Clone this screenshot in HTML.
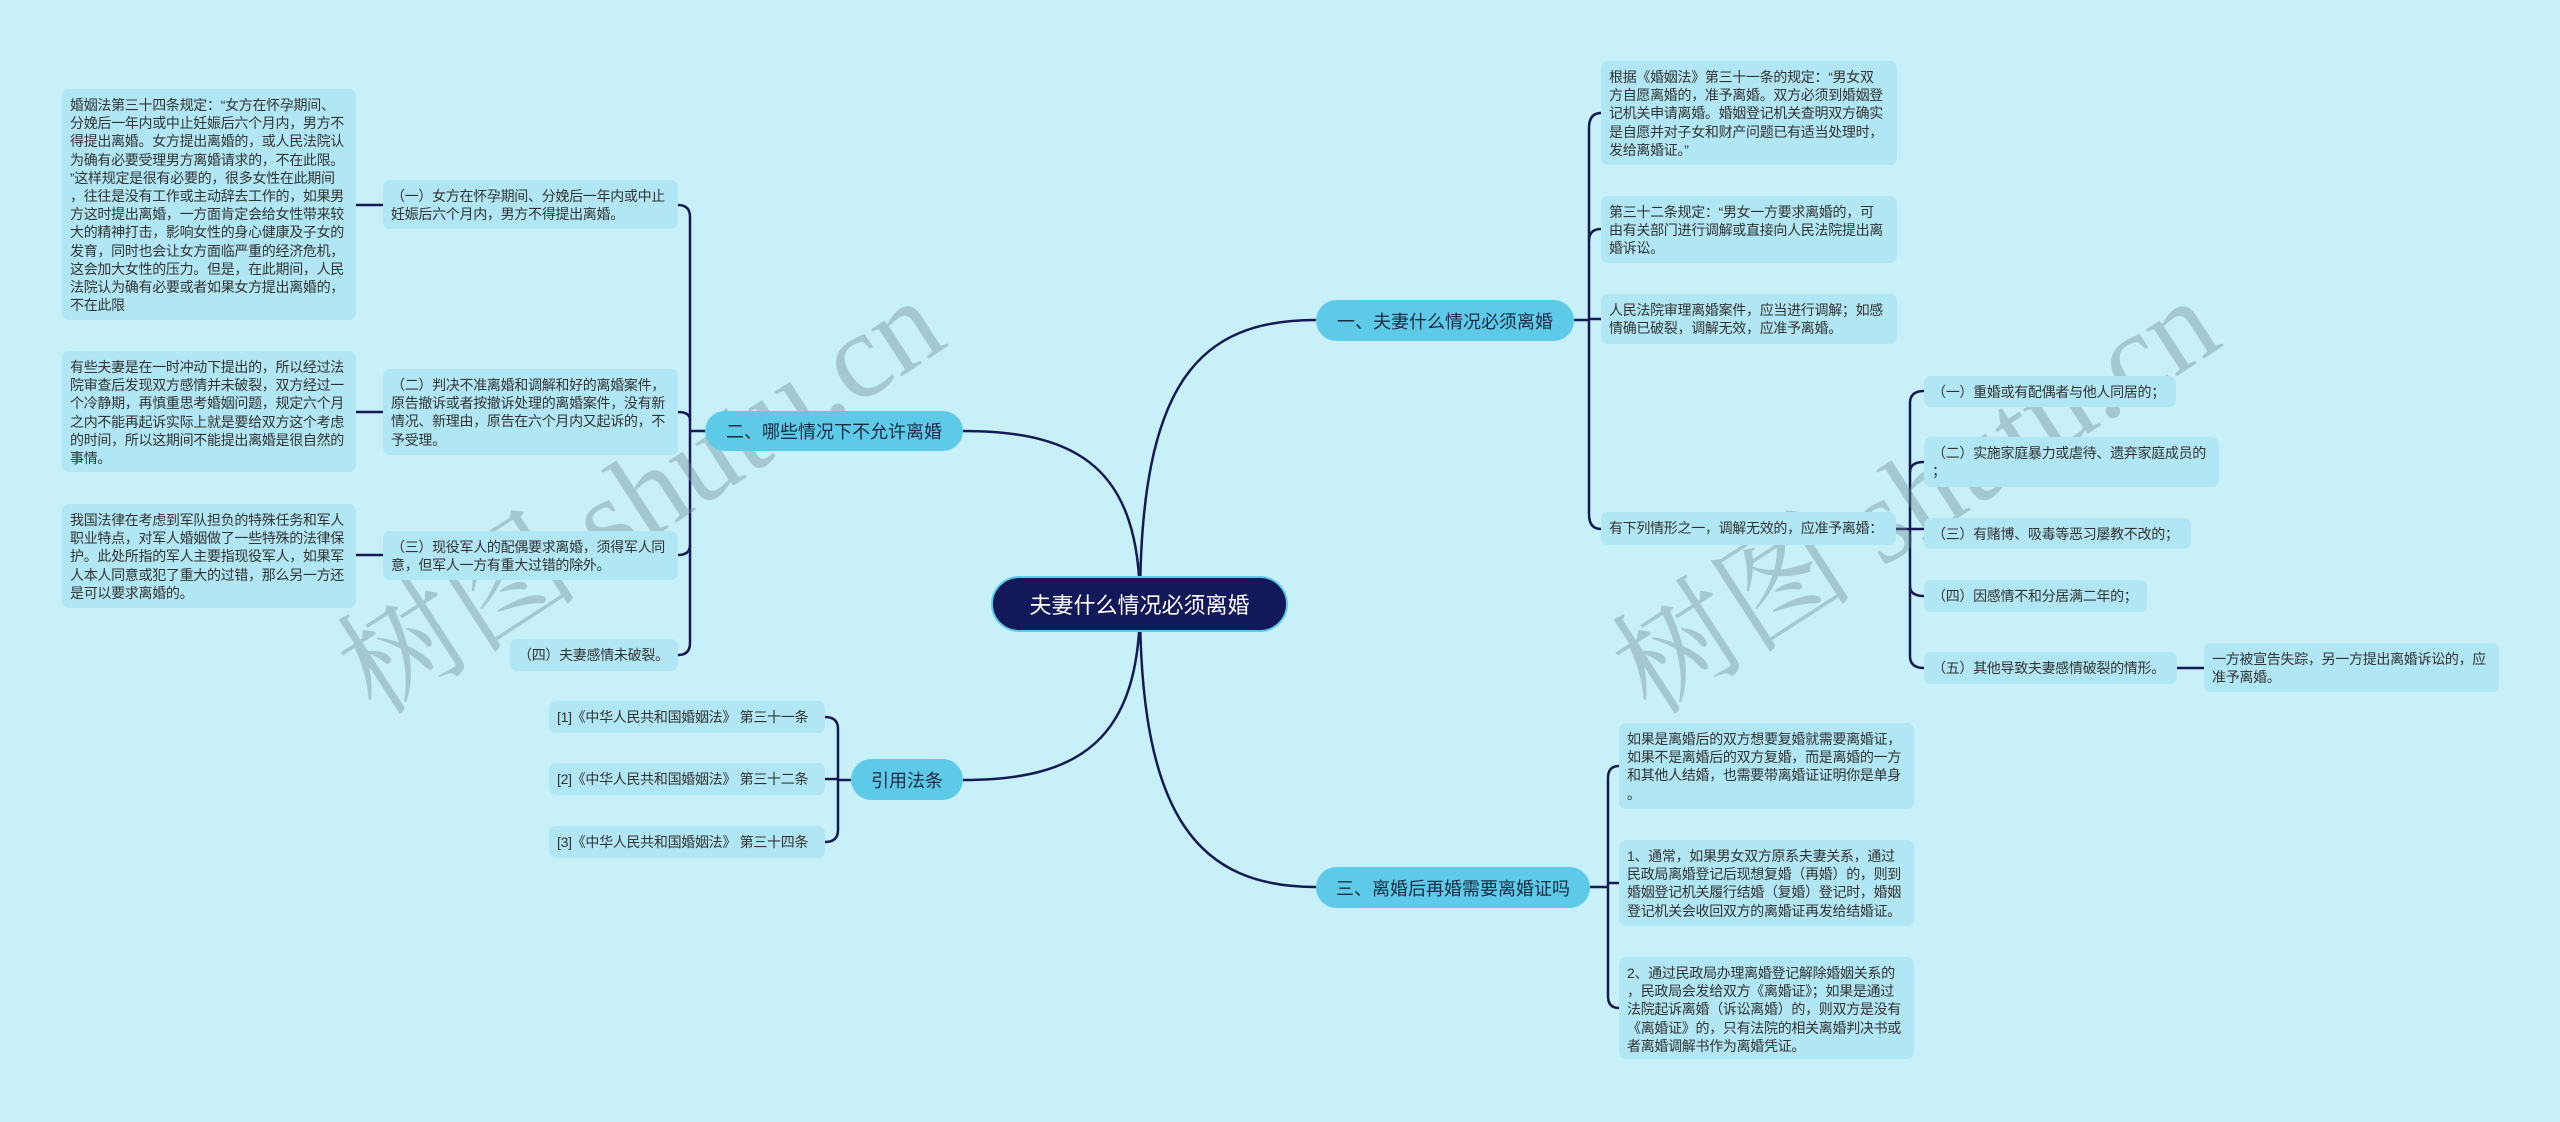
<!DOCTYPE html>
<html><head><meta charset="utf-8"><style>
body{margin:0;width:2560px;height:1122px;background:#c8f0f8;overflow:hidden;position:relative;font-family:"Liberation Sans","Noto Sans CJK SC",sans-serif;}
.b{position:absolute;background:#b1e7f4;border-radius:7px;color:#333;font-size:14px;line-height:18.2px;padding:7px 8px;box-sizing:border-box;white-space:nowrap;letter-spacing:-0.3px}
.m{position:absolute;background:#5dcbe8;border-radius:22px;color:#1d2a44;font-size:18px;display:flex;align-items:center;justify-content:center;box-sizing:border-box}
.wm{position:absolute;font-family:"Liberation Serif","Noto Serif CJK SC",serif;font-size:122px;color:rgba(110,140,150,0.4);transform:rotate(-33deg);transform-origin:left top;white-space:nowrap}
svg{position:absolute;left:0;top:0}
</style></head><body>
<svg width="2560" height="1122" fill="none" stroke="#151a55" stroke-width="2.5">
<path d="M1140 604 C1140 380 1200 320 1316 320"/>
<path d="M1140 604 C1140 470 1080 431 963 431"/>
<path d="M1140 604 C1140 740 1080 780 963 780"/>
<path d="M1140 604 C1140 820 1200 887 1316 887"/>
<path d="M705 431 L690 431"/>
<path d="M678 205 Q690 205 690 217 L690 643 Q690 655 678 655"/>
<path d="M678 412 Q690 412 690 420"/>
<path d="M678 555 Q690 555 690 545"/>
<path d="M356 205 L383 205 M356 412 L383 412 M356 555 L383 555"/>
<path d="M851 780 L838 780"/>
<path d="M825 717 Q838 717 838 729 L838 830 Q838 842 825 842"/>
<path d="M825 779 L838 779"/>
<path d="M1574 320 L1589 320"/>
<path d="M1601 113 Q1589 113 1589 128 L1589 514 Q1589 529 1601 529"/>
<path d="M1601 229 Q1589 229 1589 241"/>
<path d="M1601 319 L1589 319"/>
<path d="M1896 529 L1924 529"/>
<path d="M1924 391 Q1910 391 1910 403 L1910 656 Q1910 668 1924 668"/>
<path d="M1924 462 Q1910 462 1910 472"/>
<path d="M1924 596 Q1910 596 1910 586"/>
<path d="M2177 668 L2204 668"/>
<path d="M1590 887 L1608 887"/>
<path d="M1619 766 Q1608 766 1608 778 L1608 996 Q1608 1008 1619 1008"/>
<path d="M1619 883 L1608 883"/>
</svg>

<div class="wm" style="left:300px;top:600px">树图 shutu.cn</div>
<div class="wm" style="left:1575px;top:600px">树图 shutu.cn</div>

<div class="m" style="left:991px;top:576px;width:297px;height:56px;background:#121858;color:#fff;font-size:22px;border-radius:28px;border:2px solid #5dcbe8">夫妻什么情况必须离婚</div>
<div class="m" style="left:1316px;top:300px;width:258px;height:41px">一、夫妻什么情况必须离婚</div>
<div class="m" style="left:705px;top:411px;width:258px;height:40px">二、哪些情况下不允许离婚</div>
<div class="m" style="left:851px;top:759px;width:112px;height:41px">引用法条</div>
<div class="m" style="left:1316px;top:867px;width:274px;height:41px">三、离婚后再婚需要离婚证吗</div>

<div class="b" style="left:62px;top:89px;width:294px;height:231px">婚姻法第三十四条规定：“女方在怀孕期间、<br>分娩后一年内或中止妊娠后六个月内，男方不<br>得提出离婚。女方提出离婚的，或人民法院认<br>为确有必要受理男方离婚请求的，不在此限。<br>”这样规定是很有必要的，很多女性在此期间<br>，往往是没有工作或主动辞去工作的，如果男<br>方这时提出离婚，一方面肯定会给女性带来较<br>大的精神打击，影响女性的身心健康及子女的<br>发育，同时也会让女方面临严重的经济危机，<br>这会加大女性的压力。但是，在此期间，人民<br>法院认为确有必要或者如果女方提出离婚的，<br>不在此限</div>
<div class="b" style="left:383px;top:180px;width:295px;height:49px">（一）女方在怀孕期间、分娩后一年内或中止<br>妊娠后六个月内，男方不得提出离婚。</div>
<div class="b" style="left:62px;top:351px;width:294px;height:121px">有些夫妻是在一时冲动下提出的，所以经过法<br>院审查后发现双方感情并未破裂，双方经过一<br>个冷静期，再慎重思考婚姻问题，规定六个月<br>之内不能再起诉实际上就是要给双方这个考虑<br>的时间，所以这期间不能提出离婚是很自然的<br>事情。</div>
<div class="b" style="left:383px;top:369px;width:295px;height:86px">（二）判决不准离婚和调解和好的离婚案件，<br>原告撤诉或者按撤诉处理的离婚案件，没有新<br>情况、新理由，原告在六个月内又起诉的，不<br>予受理。</div>
<div class="b" style="left:62px;top:504px;width:294px;height:104px">我国法律在考虑到军队担负的特殊任务和军人<br>职业特点，对军人婚姻做了一些特殊的法律保<br>护。此处所指的军人主要指现役军人，如果军<br>人本人同意或犯了重大的过错，那么另一方还<br>是可以要求离婚的。</div>
<div class="b" style="left:383px;top:531px;width:295px;height:49px">（三）现役军人的配偶要求离婚，须得军人同<br>意，但军人一方有重大过错的除外。</div>
<div class="b" style="left:510px;top:639px;width:168px;height:32px">（四）夫妻感情未破裂。</div>
<div class="b" style="left:549px;top:701px;width:276px;height:32px">[1]《中华人民共和国婚姻法》 第三十一条</div>
<div class="b" style="left:549px;top:763px;width:276px;height:32px">[2]《中华人民共和国婚姻法》 第三十二条</div>
<div class="b" style="left:549px;top:826px;width:276px;height:32px">[3]《中华人民共和国婚姻法》 第三十四条</div>

<div class="b" style="left:1601px;top:61px;width:296px;height:104px">根据《婚姻法》第三十一条的规定：“男女双<br>方自愿离婚的，准予离婚。双方必须到婚姻登<br>记机关申请离婚。婚姻登记机关查明双方确实<br>是自愿并对子女和财产问题已有适当处理时，<br>发给离婚证。”</div>
<div class="b" style="left:1601px;top:196px;width:296px;height:67px">第三十二条规定：“男女一方要求离婚的，可<br>由有关部门进行调解或直接向人民法院提出离<br>婚诉讼。</div>
<div class="b" style="left:1601px;top:294px;width:296px;height:50px">人民法院审理离婚案件，应当进行调解；如感<br>情确已破裂，调解无效，应准予离婚。</div>
<div class="b" style="left:1601px;top:512px;width:295px;height:33px">有下列情形之一，调解无效的，应准予离婚：</div>
<div class="b" style="left:1924px;top:376px;width:252px;height:31px">（一）重婚或有配偶者与他人同居的；</div>
<div class="b" style="left:1924px;top:437px;width:295px;height:50px">（二）实施家庭暴力或虐待、遗弃家庭成员的<br>；</div>
<div class="b" style="left:1924px;top:518px;width:267px;height:31px">（三）有赌博、吸毒等恶习屡教不改的；</div>
<div class="b" style="left:1924px;top:580px;width:223px;height:32px">（四）因感情不和分居满二年的；</div>
<div class="b" style="left:1924px;top:652px;width:253px;height:32px">（五）其他导致夫妻感情破裂的情形。</div>
<div class="b" style="left:2204px;top:643px;width:295px;height:49px">一方被宣告失踪，另一方提出离婚诉讼的，应<br>准予离婚。</div>

<div class="b" style="left:1619px;top:723px;width:295px;height:86px">如果是离婚后的双方想要复婚就需要离婚证，<br>如果不是离婚后的双方复婚，而是离婚的一方<br>和其他人结婚，也需要带离婚证证明你是单身<br>。</div>
<div class="b" style="left:1619px;top:840px;width:295px;height:86px">1、通常，如果男女双方原系夫妻关系，通过<br>民政局离婚登记后现想复婚（再婚）的，则到<br>婚姻登记机关履行结婚（复婚）登记时，婚姻<br>登记机关会收回双方的离婚证再发给结婚证。</div>
<div class="b" style="left:1619px;top:957px;width:295px;height:102px">2、通过民政局办理离婚登记解除婚姻关系的<br>，民政局会发给双方《离婚证》；如果是通过<br>法院起诉离婚（诉讼离婚）的，则双方是没有<br>《离婚证》的，只有法院的相关离婚判决书或<br>者离婚调解书作为离婚凭证。</div>
</body></html>
